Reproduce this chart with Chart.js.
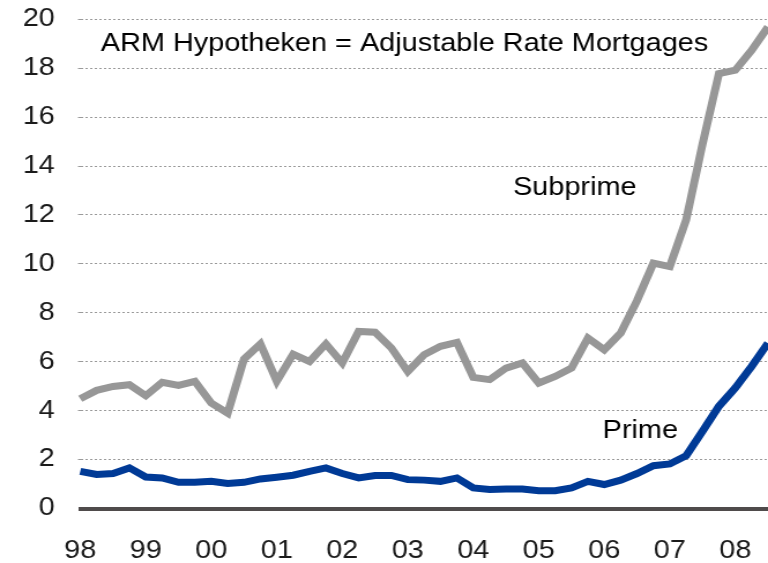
<!DOCTYPE html>
<html>
<head>
<meta charset="utf-8">
<script src="https://cdn.jsdelivr.net/npm/chart.js@4/dist/chart.umd.min.js"></script>
<style>
  html, body { margin: 0; padding: 0; background: #fff; overflow: hidden; }
  /* reference is horizontally stretched, so draw narrower and stretch */
  #wrap { width: 665px; height: 563px; transform: scaleX(1.1549); transform-origin: 0 0; }
</style>
</head>
<body>
<div id="wrap"><canvas id="arm-chart"></canvas></div>
<script>
// years shown on the x axis, one label per Q1
const years = ["98", "99", "00", "01", "02", "03", "04", "05", "06", "07", "08"];
// quarterly points, 98Q1 .. 08Q3
const quarters = [];
years.forEach(y => { for (let q = 1; q <= 4; q++) quarters.push(y + "Q" + q); });
quarters.length = 43;

const subprime = [4.49, 4.83, 4.99, 5.06, 4.61, 5.16, 5.03, 5.2, 4.31, 3.9,
  6.11, 6.73, 5.2, 6.31, 6.01, 6.73, 5.95, 7.24, 7.21, 6.56,
  5.6, 6.29, 6.63, 6.79, 5.36, 5.27, 5.74, 5.95, 5.13, 5.4,
  5.74, 6.97, 6.49, 7.17, 8.5, 10.03, 9.89, 11.8, 14.9, 17.78,
  17.92, 18.73, 19.69];
const prime = [1.52, 1.39, 1.43, 1.66, 1.29, 1.25, 1.07, 1.07, 1.11, 1.02,
  1.07, 1.21, 1.28, 1.36, 1.52, 1.66, 1.43, 1.25, 1.35, 1.35,
  1.18, 1.16, 1.11, 1.25, 0.84, 0.78, 0.8, 0.8, 0.73, 0.73,
  0.84, 1.11, 0.98, 1.16, 1.43, 1.75, 1.82, 2.16, 3.16, 4.18,
  4.93, 5.81, 6.76];

const yTicks = [0, 2, 4, 6, 8, 10, 12, 14, 16, 18, 20];

// text labels placed on the chart (index on x, value on y)
const notes = [
  { text: "ARM Hypotheken = Adjustable Rate Mortgages", x: 19.8, y: 19.0 },
  { text: "Subprime", x: 30.2, y: 13.1 },
  { text: "Prime", x: 34.2, y: 3.17 }
];

Chart.defaults.font.family = "'Liberation Sans', Arial, sans-serif";
Chart.defaults.color = "#1a1a1a";

const notePlugin = {
  id: "notes",
  afterDatasetsDraw(chart) {
    const ctx = chart.ctx;
    const xs = chart.scales.x, ys = chart.scales.y;
    ctx.save();
    ctx.font = "25px 'Liberation Sans', Arial, sans-serif";
    ctx.fillStyle = "#000";
    ctx.textAlign = "center";
    ctx.textBaseline = "middle";
    notes.forEach(n => {
      ctx.fillText(n.text, xs.getPixelForValue(n.x), ys.getPixelForValue(n.y));
    });
    ctx.restore();
  }
};

let armId = document.getElementById("arm-chart");

let ArmChart = new Chart(armId, {
  type: "line",
  data: {
    labels: quarters,
    datasets: [
      {
        label: "Subprime",
        data: subprime,
        borderColor: "#979797",
        borderWidth: 7,
        pointRadius: 0,
        tension: 0
      },
      {
        label: "Prime",
        data: prime,
        borderColor: "#003a96",
        borderWidth: 7,
        pointRadius: 0,
        tension: 0
      }
    ]
  },
  options: {
    responsive: true,
    maintainAspectRatio: false,
    animation: false,
    layout: { autoPadding: false, padding: { top: 19.3, right: 0, left: 0, bottom: 0 } },
    plugins: {
      legend: { display: false },
      tooltip: { enabled: false }
    },
    scales: {
      x: {
        offset: false,
        afterFit: s => {
          s.height = 54.5;
          s.paddingLeft = 0;
          s.paddingRight = 0;
        },
        grid: { display: false, drawTicks: false },
        border: { display: true, color: "#4f4b4b", width: 4 },
        ticks: {
          autoSkip: false,
          maxRotation: 0,
          padding: 28,
          font: { size: 25 },
          color: "#1a1a1a",
          callback: (v, i) => (i % 4 === 0 ? years[i / 4] : "")
        }
      },
      y: {
        min: 0,
        max: 20,
        afterBuildTicks: s => { s.ticks = yTicks.map(v => ({ value: v })); },
        afterFit: s => {
          s.width = 69.5;
          s.paddingTop = 0;
          s.paddingBottom = 0;
        },
        grid: {
          drawTicks: true,
          tickLength: 2,
          color: c => (c.tick && c.tick.value === 0 ? "rgba(0,0,0,0)" : "#9a9a9a"),
          lineWidth: 1
        },
        border: { display: false, dash: [2, 2] },
        ticks: {
          padding: 20,
          font: { size: 25 },
          color: "#1a1a1a"
        }
      }
    }
  },
  plugins: [notePlugin]
});
</script>
</body>
</html>
